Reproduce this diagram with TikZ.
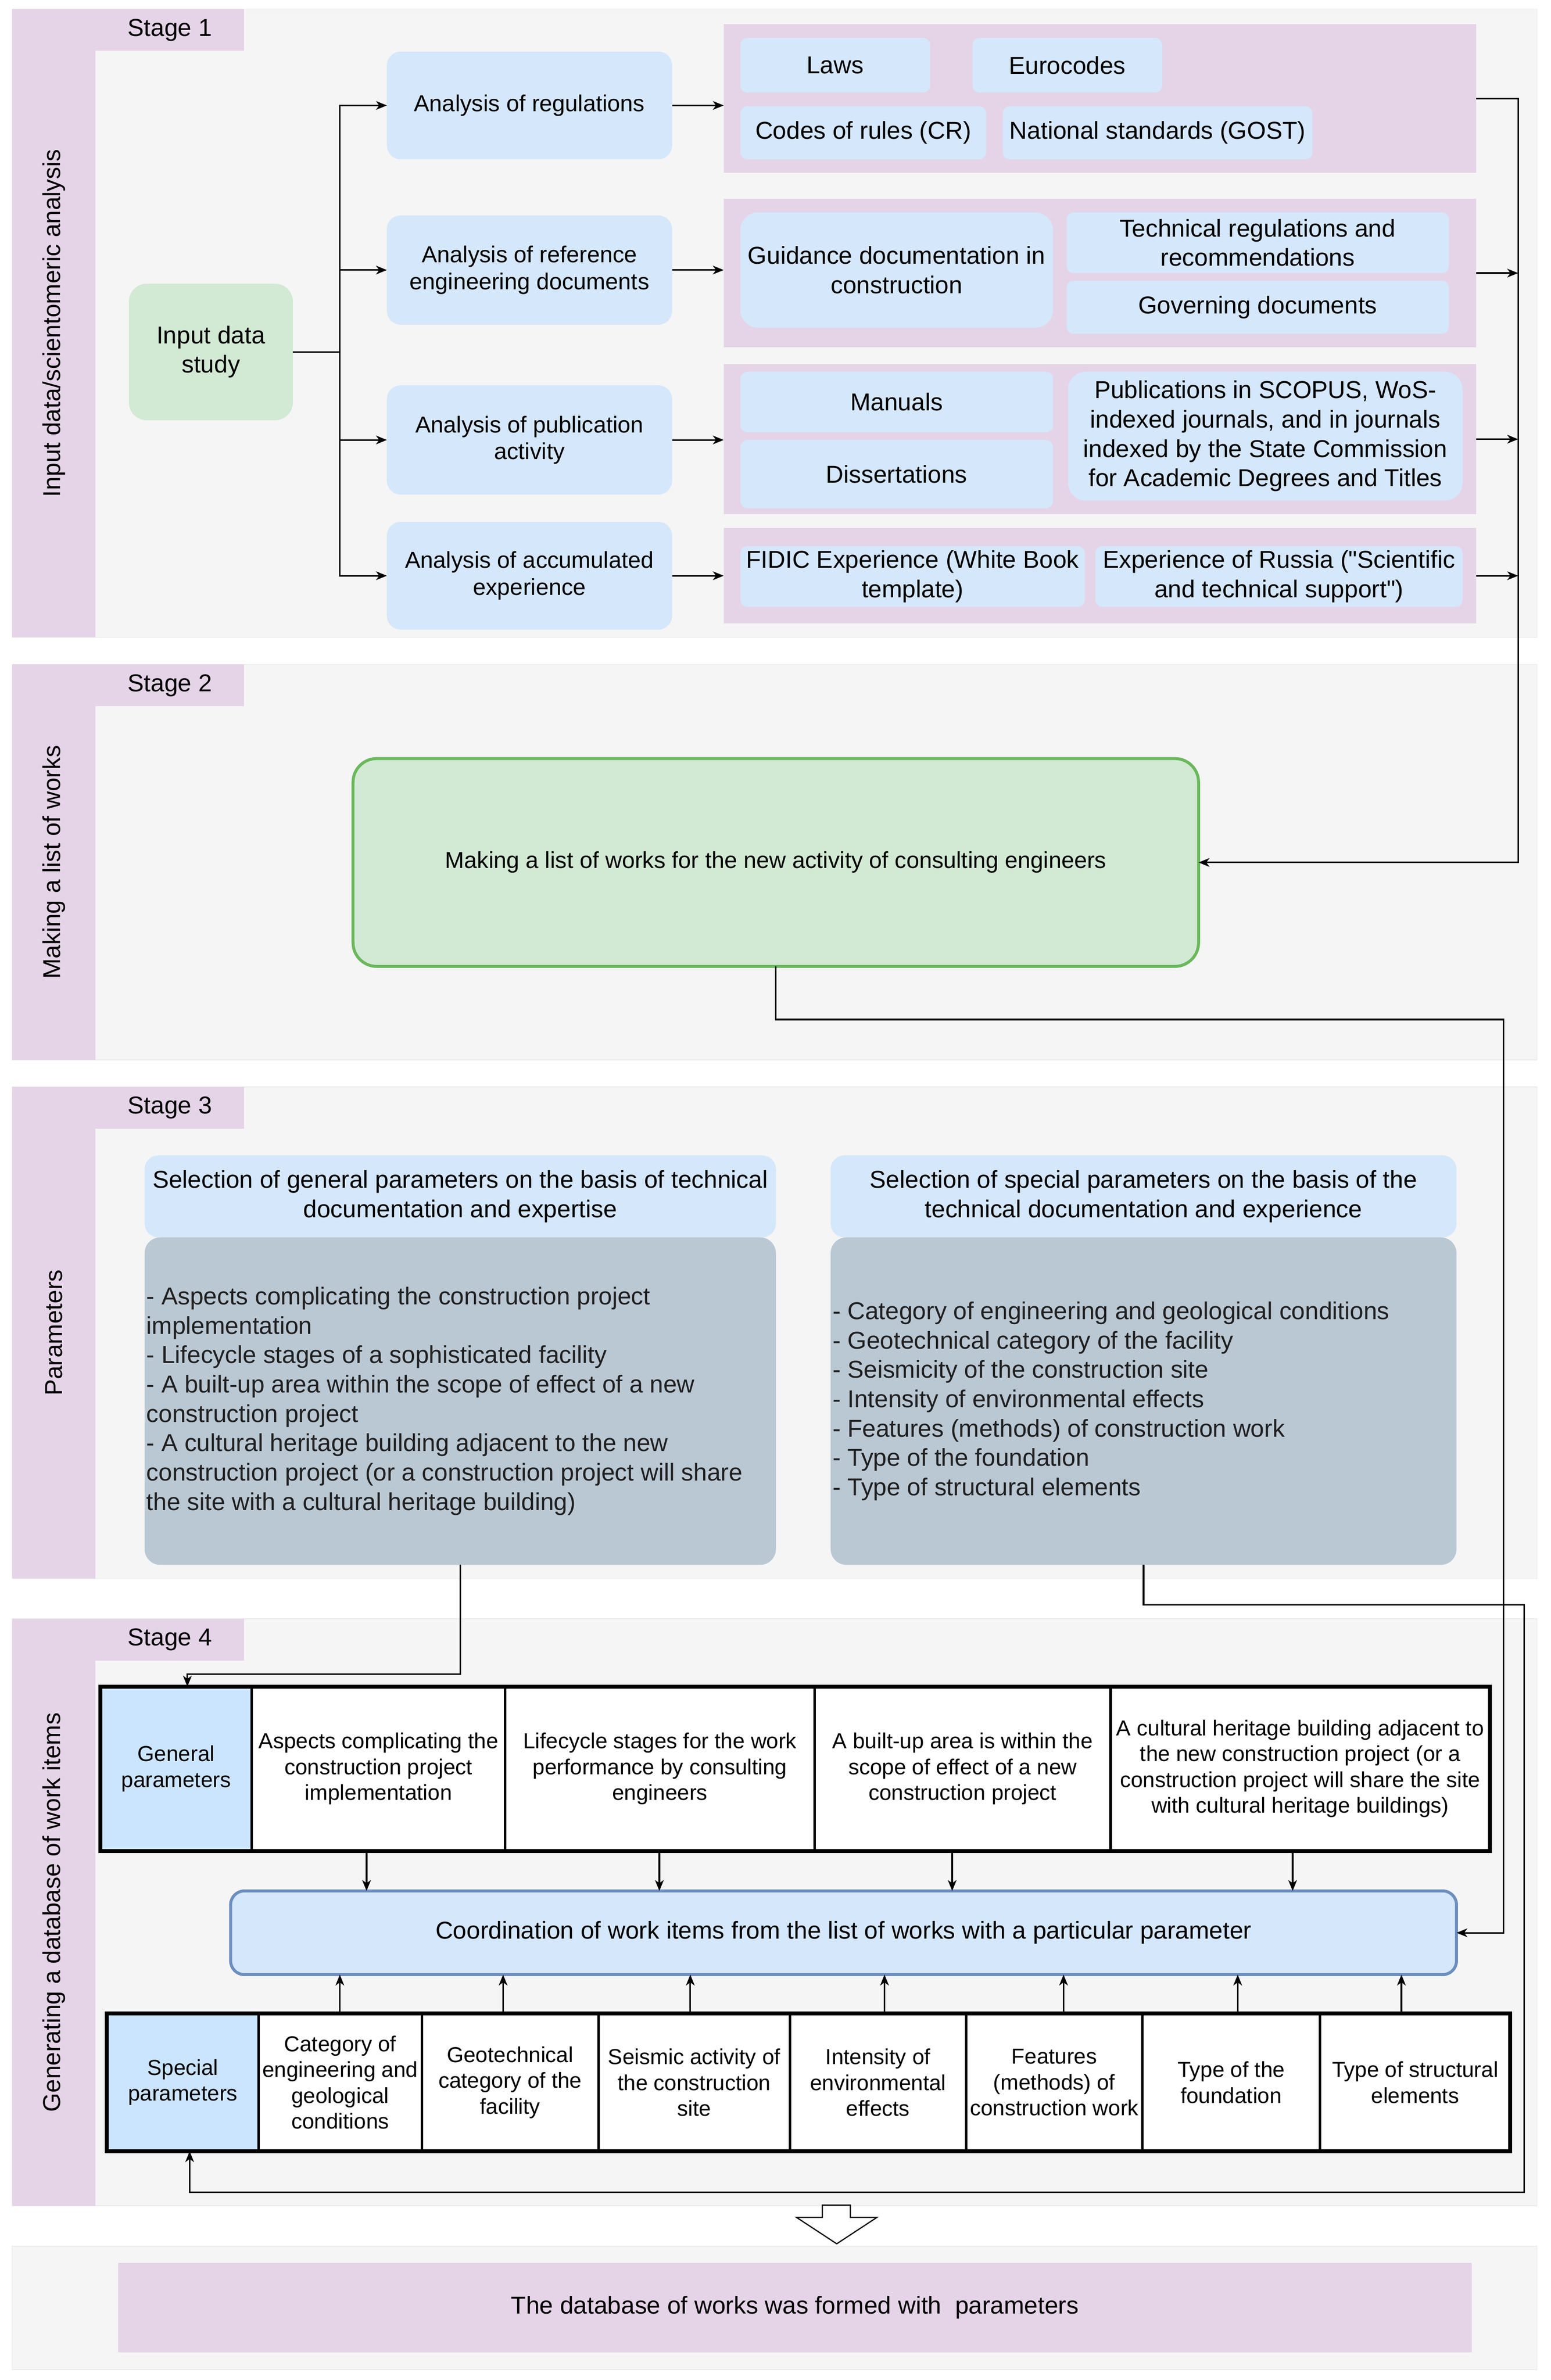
\documentclass[tikz,border=0pt]{standalone}
\usepackage{fontspec}
\setmainfont{Liberation Sans}[Ligatures=TeXOff]
\usetikzlibrary{arrows.meta}
\definecolor{bgc}{HTML}{F5F5F5}
\definecolor{bgl}{HTML}{EAEAEA}
\definecolor{pinkc}{HTML}{E5D4E7}
\definecolor{lblue}{HTML}{D5E7FA}
\definecolor{hblue}{HTML}{CCE5FF}
\definecolor{gfill}{HTML}{D2E9D4}
\definecolor{gline}{HTML}{6AB85C}
\definecolor{dgray}{HTML}{BAC8D3}
\definecolor{cline}{HTML}{6C8EBF}
\newcommand{\fsA}{\fontsize{11.7pt}{13.6pt}\selectfont}
\newcommand{\fsB}{\fontsize{12.4pt}{14.9pt}\selectfont}
\newcommand{\fsT}{\fontsize{11pt}{13.1pt}\selectfont}
\newcommand{\bx}[7]{\node[#6,minimum width={(#4-#2)*0.77pt},minimum height={(#5-#3)*0.77pt}] (#1) at ({(#2+#4)/2},{(#3+#5)/2}) {#7};}
\tikzset{
  base/.style={inner sep=0pt,outer sep=0pt,align=center,text=black},
  abox/.style={base,fill=lblue,rounded corners=7pt,font=\fsA},
  ibox/.style={base,fill=lblue,rounded corners=3.5pt,font=\fsB},
  gbox/.style={base,fill=gfill,rounded corners=9pt,font=\fsB},
  grp/.style={base,fill=pinkc},
  tab/.style={base,fill=pinkc,font=\fsB},
  greenbig/.style={base,fill=gfill,draw=gline,line width=1.5pt,rounded corners=12pt,font=\fsA},
  hbox/.style={base,fill=lblue,rounded corners=7pt,font=\fsB},
  dbox/.style={base,fill=dgray,rounded corners=8pt},
  listtxt/.style={base,align=left,anchor=west,font=\fsB,text=black!88},
  cell/.style={base,fill=white,draw=black,line width=1.3pt,font=\fsT},
  cellb/.style={cell,fill=hblue},
  cobox/.style={base,fill=lblue,draw=cline,line width=1.5pt,rounded corners=7pt,font=\fsB},
  pbox/.style={base,fill=pinkc,font=\fsB},
  vlab/.style={base,rotate=90,font=\fsB},
  stagebg/.style={fill=bgc,draw=bgl,line width=0.4pt},
  strip/.style={fill=pinkc},
  ln/.style={draw=black,line width=0.8pt},
  arr/.style={ln,-{Stealth[length=5.5pt,width=4.4pt,inset=1.6pt]}},
  table/.style={draw=black,line width=2pt}
}
\begin{document}
\begin{tikzpicture}[x=0.77pt,y=-0.77pt]
\useasboundingbox (0,0) rectangle (1022,1568.8);
\fill[white] (0,0) rectangle (1022,1568.8);

% ---------- stage containers ----------
\path[stagebg] (8,6) rectangle (1013,420);
\path[strip] (8,6) rectangle (63,420);
\path[stagebg] (8,438) rectangle (1013,698.6);
\path[strip] (8,438) rectangle (63,698.6);
\path[stagebg] (8,716.5) rectangle (1013,1040.6);
\path[strip] (8,716.5) rectangle (63,1040.6);
\path[stagebg] (8,1067) rectangle (1013,1454);
\path[strip] (8,1067) rectangle (63,1454);
\path[stagebg] (8,1480.6) rectangle (1013,1562);

\bx{t1}{63}{6}{161}{33.5}{tab}{Stage 1}
\bx{t2}{63}{438}{161}{465.5}{tab}{Stage 2}
\bx{t3}{63}{716.5}{161}{744}{tab}{Stage 3}
\bx{t4}{63}{1067}{161}{1094.5}{tab}{Stage 4}

\node[vlab] (v1) at (35.5,213) {Input data/scientomeric analysis};
\node[vlab] (v2) at (35.5,568.3) {Making a list of works};
\node[vlab] (v3) at (35.5,878.5) {Parameters};
\node[vlab] (v4) at (35.5,1260.5) {Generating a database of work items};

% ---------- stage 1 ----------
\bx{inp}{85}{187}{193}{277}{gbox}{Input data\\study}
\bx{a1}{255}{34}{443}{105}{abox}{Analysis of regulations}
\bx{a2}{255}{142}{443}{214}{abox}{Analysis of reference\\engineering documents}
\bx{a3}{255}{254}{443}{326}{abox}{Analysis of publication\\activity}
\bx{a4}{255}{344}{443}{415}{abox}{Analysis of accumulated\\experience}

\bx{g1}{477}{16}{973}{114}{grp}{}
\bx{g2}{477}{131}{973}{229}{grp}{}
\bx{g3}{477}{240}{973}{339}{grp}{}
\bx{g4}{477}{348}{973}{411}{grp}{}

\bx{laws}{488}{25}{613}{61}{ibox}{Laws}
\bx{euro}{641}{25}{766}{61}{ibox}{Eurocodes}
\bx{codes}{488}{70}{650}{105}{ibox}{Codes of rules (CR)}
\bx{gost}{661}{70}{865}{105}{ibox}{National standards (GOST)}
\bx{guid}{488}{140}{694}{216}{ibox,rounded corners=9pt}{Guidance documentation in\\construction}
\bx{tech}{703}{140}{955}{180}{ibox}{Technical regulations and\\recommendations}
\bx{gov}{703}{185}{955}{220}{ibox}{Governing documents}
\bx{man}{488}{245}{694}{285}{ibox}{Manuals}
\bx{diss}{488}{290}{694}{335}{ibox}{Dissertations}
\bx{pub}{704}{245}{964}{330}{ibox,rounded corners=9pt}{Publications in SCOPUS, WoS-\\indexed journals, and in journals\\indexed by the State Commission\\for Academic Degrees and Titles}
\bx{fidic}{488}{360}{715}{400}{ibox}{FIDIC Experience (White Book\\template)}
\bx{rus}{722}{360}{964}{400}{ibox}{Experience of Russia ("Scientific\\and technical support")}

% ---------- stage 2 ----------
\bx{list}{232.7}{500}{790}{637}{greenbig}{Making a list of works for the new activity of consulting engineers}

% ---------- stage 3 ----------
\bx{genh}{95.3}{761.6}{511.4}{815.6}{hbox}{Selection of general parameters on the basis of technical\\documentation and expertise}
\bx{genb}{95.3}{815.6}{511.4}{1031.5}{dbox}{}
\node[listtxt] (genl) at ([xshift=1pt]genb.west) {- Aspects complicating the construction project\\implementation\\- Lifecycle stages of a sophisticated facility\\- A built-up area within the scope of effect of a new\\construction project\\- A cultural heritage building adjacent to the new\\construction project (or a construction project will share\\the site with a cultural heritage building)};
\bx{spech}{547.5}{761.6}{960}{815.6}{hbox}{Selection of special parameters on the basis of the\\technical documentation and experience}
\bx{specb}{547.5}{815.6}{960}{1031.5}{dbox}{}
\node[listtxt] (specl) at ([xshift=1pt]specb.west) {- Category of engineering and geological conditions\\- Geotechnical category of the facility\\- Seismicity of the construction site\\- Intensity of environmental effects\\- Features (methods) of construction work\\- Type of the foundation\\- Type of structural elements};

% ---------- stage 4 ----------
\bx{gpar}{66.2}{1111.7}{166}{1220}{cellb}{General\\parameters}
\bx{gc1}{166}{1111.7}{333}{1220}{cell}{Aspects complicating the\\construction project\\implementation}
\bx{gc2}{333}{1111.7}{537}{1220}{cell}{Lifecycle stages for the work\\performance by consulting\\engineers}
\bx{gc3}{537}{1111.7}{732}{1220}{cell}{A built-up area is within the\\scope of effect of a new\\construction project}
\bx{gc4}{732}{1111.7}{982}{1220}{cell}{A cultural heritage building adjacent to\\the new construction project (or a\\construction project will share the site\\with cultural heritage buildings)}
\draw[table] (gpar.north west) rectangle (gc4.south east);

\bx{coord}{152}{1246.4}{960}{1301.6}{cobox}{Coordination of work items from the list of works with a particular parameter}

\bx{spar}{70.5}{1327.3}{170.5}{1418}{cellb}{Special\\parameters}
\bx{sc1}{170.5}{1327.3}{278}{1418}{cell}{Category of\\engineering and\\geological\\conditions}
\bx{sc2}{278}{1327.3}{394.5}{1418}{cell}{Geotechnical\\category of the\\facility}
\bx{sc3}{394.5}{1327.3}{520.7}{1418}{cell}{Seismic activity of\\the construction\\site}
\bx{sc4}{520.7}{1327.3}{636.8}{1418}{cell}{Intensity of\\environmental\\effects}
\bx{sc5}{636.8}{1327.3}{753}{1418}{cell}{Features\\(methods) of\\construction work}
\bx{sc6}{753}{1327.3}{870}{1418}{cell}{Type of the\\foundation}
\bx{sc7}{870}{1327.3}{995.5}{1418}{cell}{Type of structural\\elements}
\draw[table] (spar.north west) rectangle (sc7.south east);

% ---------- final ----------
\bx{final}{78}{1491.7}{970}{1550.6}{pbox}{The database of works was formed with~ parameters}
\draw[line width=0.6pt,fill=white] (542,1453.5) -- (542,1461.6) -- (525,1461.6) -- (551.5,1479) -- (578,1461.6) -- (560.5,1461.6) -- (560.5,1453.5) -- cycle;

% ---------- connectors ----------
\coordinate (bus) at (224,232);
\draw[ln] (inp.east |- bus) -- (bus);
\foreach \n in {a1,a2,a3,a4} \draw[arr] (bus) |- (\n.west);
\foreach \n/\g in {a1/g1,a2/g2,a3/g3,a4/g4} \draw[arr] (\n.east) -- (\n.east -| \g.west);

\coordinate (rt) at (1000.6,0);
\draw[arr] (g1.east) -- (g1.east -| rt) |- (list.east);
\foreach \g in {g2,g3,g4} \draw[arr] (\g.east) -- (\g.east -| rt);

\coordinate (r2) at (991,672);
\draw[arr] (list.south) |- (r2) |- (coord.east);

\coordinate (gp) at (123.5,1103.5);
\draw[arr] (genb.south) |- (gp) -- (gp |- gpar.north);

\coordinate (sp1) at (1004.6,1057.7);
\coordinate (sp2) at (125,1445);
\draw[arr] (specb.south) |- (sp1) |- (sp2) -- (sp2 |- spar.south);

\foreach \xx in {241.6,434.6,627.6,852} \draw[arr] (\xx,0 |- gc1.south) -- (\xx,0 |- coord.north);
\foreach \xx in {224,331.6,455,583,701,815.8,923.7} \draw[arr] (\xx,0 |- sc1.north) -- (\xx,0 |- coord.south);

\end{tikzpicture}
\end{document}
